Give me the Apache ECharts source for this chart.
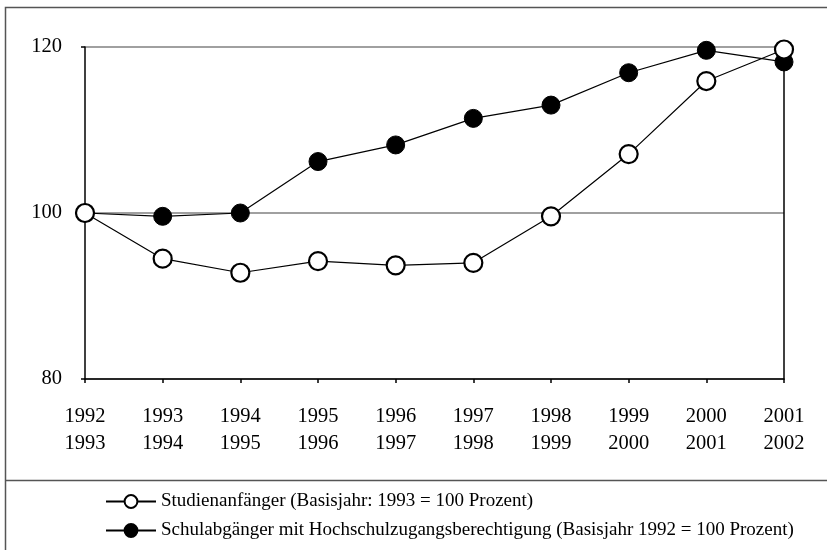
<!DOCTYPE html>
<html>
<head>
<meta charset="utf-8">
<script src="https://cdn.jsdelivr.net/npm/echarts@6/dist/echarts.min.js"></script>
<style>
  html, body { margin: 0; padding: 0; background: #fff; }
  #chart { width: 827px; height: 550px; }
</style>
</head>
<body>
<div id="chart"></div>
<script>
// x axis: two-line labels (start year / end year)
var years = ['1992\n1993', '1993\n1994', '1994\n1995', '1995\n1996', '1996\n1997',
             '1997\n1998', '1998\n1999', '1999\n2000', '2000\n2001', '2001\n2002'];

// Studienanfänger (Basisjahr 1993 = 100)
var studienanfaenger = [100, 94.5, 92.8, 94.2, 93.7, 94.0, 99.6, 107.1, 115.9, 119.7];
// Schulabgänger mit HZB (Basisjahr 1992 = 100)
var schulabgaenger = [100, 99.6, 100, 106.2, 108.2, 111.4, 113.0, 116.9, 119.6, 118.2];

var name_studien = 'Studienanfänger (Basisjahr: 1993 = 100 Prozent)';
var name_schul = 'Schulabgänger mit Hochschulzugangsberechtigung (Basisjahr 1992 = 100 Prozent)';

var font = '"Liberation Serif", "Times New Roman", serif';

var chart = echarts.init(document.getElementById('chart'), null, { renderer: 'canvas' });

var option = {
  animation: false,
  backgroundColor: '#fff',
  textStyle: { fontFamily: font, color: '#000' },
  grid: { left: 85, right: 43, top: 47, bottom: 171 },
  graphic: [
    // outer frame
    {
      type: 'rect', silent: true,
      shape: { x: 5.5, y: 7.5, width: 900, height: 600 },
      style: { fill: null, stroke: '#555', lineWidth: 1.5 }
    },
    // separator above the legend
    {
      type: 'line', silent: true,
      shape: { x1: 5, y1: 480.5, x2: 827, y2: 480.5 },
      style: { stroke: '#555', lineWidth: 1.5 }
    }
  ],
  legend: {
    orient: 'vertical',
    left: 100,
    top: 487,
    itemWidth: 50,
    itemHeight: 16,
    itemGap: 10,
    textStyle: { fontFamily: font, fontSize: 19, color: '#000' },
    data: [name_studien, name_schul]
  },
  xAxis: {
    type: 'category',
    data: years,
    boundaryGap: false,
    axisLine: { lineStyle: { color: '#000', width: 1.5 } },
    axisTick: { show: true, length: 4, lineStyle: { color: '#000', width: 1.5 } },
    axisLabel: { color: '#000', fontFamily: font, fontSize: 20.5, lineHeight: 27, margin: 24 },
    splitLine: { show: false }
  },
  yAxis: [
    {
      type: 'value',
      min: 80, max: 120, interval: 20,
      axisLine: { show: true, lineStyle: { color: '#000', width: 1.5 } },
      axisTick: { show: true, length: 4, lineStyle: { color: '#000', width: 1.5 } },
      axisLabel: { color: '#000', fontFamily: font, fontSize: 20.5, margin: 23 },
      splitLine: { show: true, lineStyle: { color: '#808080', width: 1.5 } }
    },
    {
      type: 'value',
      position: 'right',
      min: 80, max: 120, interval: 20,
      axisLine: { show: true, lineStyle: { color: '#000', width: 1.5 } },
      axisTick: { show: false },
      axisLabel: { show: false },
      splitLine: { show: false }
    }
  ],
  series: [
    {
      name: name_studien,
      type: 'line',
      data: studienanfaenger,
      symbol: 'circle',
      symbolSize: 18,
      z: 3,
      lineStyle: { color: '#000', width: 1.2 },
      itemStyle: { color: '#fff', borderColor: '#000', borderWidth: 2.2 }
    },
    {
      name: name_schul,
      type: 'line',
      data: schulabgaenger,
      symbol: 'circle',
      symbolSize: 18,
      z: 2,
      lineStyle: { color: '#000', width: 1.2 },
      itemStyle: { color: '#000', borderColor: '#000', borderWidth: 1 }
    }
  ]
};

chart.setOption(option);
</script>
</body>
</html>
